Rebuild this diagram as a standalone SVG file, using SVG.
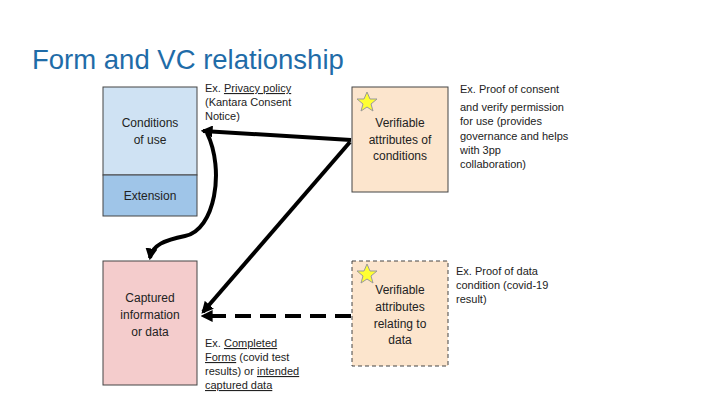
<svg xmlns="http://www.w3.org/2000/svg" width="720" height="405" viewBox="0 0 720 405">
<style>
text{font-family:"Liberation Sans",Arial,sans-serif;font-size:12px;fill:#222}
.c{text-anchor:middle}
.t{font-size:27.5px;fill:#1f6ca8}
.s{font-size:11px}
.box{stroke:#444;stroke-width:1}
.ar{stroke:#000;stroke-width:4;fill:none;marker-end:url(#h)}
.star{fill:#ffff33;stroke:#999;stroke-width:1}
</style>
<defs><marker id="h" viewBox="0 0 10 10" refX="8" refY="5" markerWidth="3" markerHeight="3" orient="auto"><path d="M0,0L10,5L0,10z" fill="#000"/></marker></defs>
<rect width="720" height="405" fill="#fff"/>
<text class="t" x="32" y="69">Form and VC relationship</text>
<g id="conditions"><rect class="box" x="103" y="87" width="94" height="88" fill="#cfe2f3"/><text class="c" x="150" y="127">Conditions</text><text class="c" x="150" y="144">of use</text></g>
<g id="extension"><rect class="box" x="103" y="175" width="94" height="41" fill="#9fc5e8"/><text class="c" x="150" y="200">Extension</text></g>
<g id="captured"><rect class="box" x="103" y="261" width="94" height="124" fill="#f4cccc"/><text class="c" x="150" y="302">Captured</text><text class="c" x="150" y="319">information</text><text class="c" x="150" y="336">or data</text></g>
<g id="vcond"><rect class="box" x="352" y="87" width="96" height="105" fill="#fce5cd"/><polygon class="star" points="367,92 370,99 377,99 371,104 373,111 367,107 361,111 363,104 357,99 364,99"/><text class="c" x="400" y="127">Verifiable</text><text class="c" x="400" y="144">attributes of</text><text class="c" x="400" y="160">conditions</text></g>
<g id="vdata"><rect class="box" x="352" y="261" width="96" height="105" fill="#fce5cd" stroke-dasharray="4,3"/><polygon class="star" points="367,264 370,271 377,271 371,276 373,283 367,279 361,283 363,276 357,271 364,271"/><text class="c" x="400" y="294">Verifiable</text><text class="c" x="400" y="311">attributes</text><text class="c" x="400" y="328">relating to</text><text class="c" x="400" y="344">data</text></g>
<g id="labels" class="s">
<text class="s" x="205" y="92">Ex. <tspan text-decoration="underline">Privacy policy</tspan></text><text class="s" x="205" y="106">(Kantara Consent</text><text class="s" x="205" y="120">Notice)</text>
<text class="s" x="205" y="347">Ex. <tspan text-decoration="underline">Completed</tspan></text><text class="s" x="205" y="361"><tspan text-decoration="underline">Forms</tspan> (covid test</text><text class="s" x="205" y="375">results) or <tspan text-decoration="underline">intended</tspan></text><text class="s" x="205" y="389" text-decoration="underline">captured data</text>
<text class="s" x="460" y="93">Ex. Proof of consent</text><text class="s" x="460" y="111">and verify permission</text><text class="s" x="460" y="125">for use (provides</text><text class="s" x="460" y="140">governance and helps</text><text class="s" x="460" y="154">with 3pp</text><text class="s" x="460" y="168">collaboration)</text>
<text class="s" x="456" y="275">Ex. Proof of data</text><text class="s" x="456" y="289">condition (covid-19</text><text class="s" x="456" y="303">result)</text>
</g>
<g id="connectors">
<path class="ar" d="M351,140 L203,131"/>
<path class="ar" d="M350,142 L203,312"/>
<path class="ar" d="M351,316 L203,316" stroke-dasharray="16,9"/>
<path class="ar" d="M207,133 C225,170 215,230 185,236 C165,240 152,245 150,258"/>
</g>
</svg>
